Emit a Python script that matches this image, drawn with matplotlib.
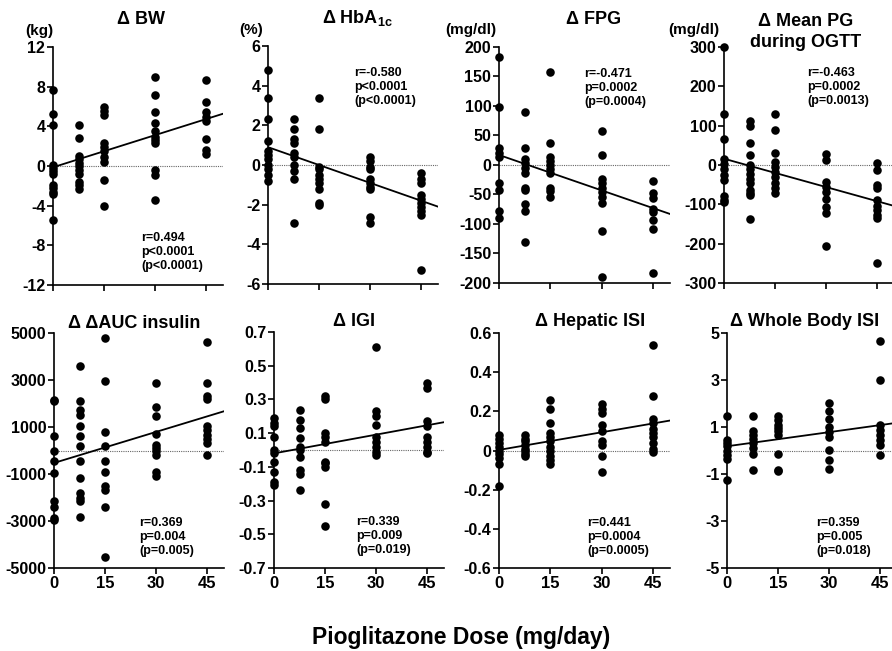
import matplotlib
matplotlib.use('Agg')
import matplotlib.pyplot as plt
import numpy as np

plt.rcParams['font.family'] = ['Liberation Sans', 'DejaVu Sans']
plt.rcParams['font.weight'] = 'bold'
plt.rcParams['mathtext.fontset'] = 'custom'
plt.rcParams['mathtext.rm'] = 'Liberation Sans:bold'
plt.rcParams['mathtext.bf'] = 'Liberation Sans:bold'
plt.rcParams['mathtext.it'] = 'Liberation Sans:bold'

# ---------------- data ----------------
doses = [0, 7.5, 15, 30, 45]
xticks = [0, 15, 30, 45]
xtick_labels = ['0', '15', '30', '45']

bw = [
    [7.7, 5.2, 4.1, 0.1, -0.2, -0.5, -0.8, -1.9, -2.2, -2.6, -2.8, -5.4],
    [4.1, 2.8, 1.0, 0.7, 0.3, 0.0, -0.4, -0.8, -1.6, -1.9, -2.3],
    [6.0, 5.5, 5.1, 2.3, 1.9, 1.5, 0.9, 0.4, -1.4, -4.0],
    [9.0, 7.2, 5.4, 4.3, 3.5, 2.9, 2.6, 2.3, -0.4, -0.9, -3.4],
    [8.7, 6.5, 5.4, 4.9, 4.5, 2.7, 1.6, 1.2],
]
hba1c = [
    [4.8, 3.4, 2.3, 1.2, 0.7, 0.5, 0.3, 0.0, -0.2, -0.5, -0.8],
    [2.3, 1.8, 1.3, 1.1, 0.6, 0.4, 0.0, -0.3, -0.7, -2.9],
    [3.4, 1.8, -0.1, -0.2, -0.5, -0.7, -0.9, -1.2, -1.9, -2.0],
    [0.4, 0.2, -0.1, -0.2, -0.7, -0.9, -1.1, -1.2, -2.6, -2.9],
    [-0.4, -0.7, -0.9, -1.5, -1.7, -1.9, -2.1, -2.3, -2.5, -5.3],
]
fpg = [
    [183, 99, 28, 21, 14, -30, -42, -78, -89],
    [89, 29, 11, 4, -5, -13, -39, -42, -66, -78, -131],
    [157, 37, 14, 7, 0, -6, -14, -39, -44, -54],
    [58, 17, -24, -31, -39, -45, -54, -65, -112, -189],
    [-27, -48, -56, -74, -80, -93, -109, -183],
]
mean_pg = [
    [300, 130, 67, 14, 3, -9, -26, -39, -80, -90, -94],
    [112, 98, 56, 25, 0, -9, -22, -35, -47, -63, -71, -77, -138],
    [130, 88, 31, 8, -5, -18, -31, -46, -58, -70],
    [27, 12, -43, -56, -69, -86, -107, -121, -206],
    [6, -12, -50, -58, -88, -103, -115, -128, -136, -249],
]
auc_ins = [
    [2160, 2090, 630, -35, -460, -960, -2160, -2400, -2870, -2970],
    [3580, 2120, 1740, 1525, 1030, 600, 180, -460, -1170, -1810, -2020, -2160, -2840],
    [4790, 2970, 790, 180, -430, -910, -1520, -1690, -2420, -4530],
    [2870, 1850, 1450, 720, 250, 110, -35, -180, -910, -1100],
    [4620, 2870, 2330, 2200, 1060, 890, 670, 490, 320, -180],
]
igi = [
    [0.19, 0.16, 0.14, 0.08, 0.0, -0.02, -0.07, -0.13, -0.19, -0.21],
    [0.24, 0.18, 0.13, 0.07, 0.02, 0.0, -0.04, -0.12, -0.14, -0.24],
    [0.32, 0.30, 0.10, 0.08, 0.05, -0.07, -0.08, -0.10, -0.32, -0.45],
    [0.61, 0.23, 0.20, 0.15, 0.08, 0.05, 0.02, -0.01, -0.03],
    [0.40, 0.37, 0.17, 0.14, 0.08, 0.05, 0.02, -0.01, -0.02],
]
hepatic_isi = [
    [0.08, 0.06, 0.04, 0.02, -0.005, -0.02, -0.04, -0.07, -0.18],
    [0.08, 0.06, 0.05, 0.03, 0.01, -0.005, -0.02, -0.03],
    [0.26, 0.21, 0.14, 0.09, 0.07, 0.05, 0.02, -0.005, -0.03, -0.05, -0.07],
    [0.24, 0.21, 0.19, 0.13, 0.10, 0.05, 0.03, -0.03, -0.11],
    [0.54, 0.28, 0.16, 0.14, 0.11, 0.09, 0.07, 0.04, 0.01, -0.01],
]
whole_isi = [
    [1.48, 0.46, 0.32, 0.18, 0.0, -0.18, -0.36, -1.24],
    [1.48, 0.84, 0.67, 0.49, 0.32, 0.11, -0.13, -0.82],
    [1.45, 1.31, 1.1, 0.96, 0.82, 0.67, -0.13, -0.82, -0.89],
    [2.02, 1.67, 1.35, 0.99, 0.79, 0.57, 0.04, -0.42, -0.77],
    [4.64, 3.01, 1.1, 0.89, 0.67, 0.46, 0.25, -0.18],
]

# regression lines (intercept, slope)
fit_intercepts = [-0.13, 0.9, 17, 16, -530, -0.02, 0.003, 0.18]
fit_slopes = [0.108, -0.06, -2.0, -2.4, 44, 0.0037, 0.003, 0.02]

titles = ['\u0394 BW', '\u0394 HbA$_{\\mathrm{1c}}$', '\u0394 FPG', '\u0394 Mean PG\nduring OGTT',
          '\u0394 \u0394AUC insulin', '\u0394 IGI', '\u0394 Hepatic ISI', '\u0394 Whole Body ISI']
units = ['(kg)', '(%)', '(mg/dl)', '(mg/dl)', None, None, None, None]
stats = ['r=0.494\np<0.0001\n(p<0.0001)',
         'r=-0.580\np<0.0001\n(p<0.0001)',
         'r=-0.471\np=0.0002\n(p=0.0004)',
         'r=-0.463\np=0.0002\n(p=0.0013)',
         'r=0.369\np=0.004\n(p=0.005)',
         'r=0.339\np=0.009\n(p=0.019)',
         'r=0.441\np=0.0004\n(p=0.0005)',
         'r=0.359\np=0.005\n(p=0.018)']

yticks_list = [
    [-12, -8, -4, 0, 4, 8, 12],
    [-6, -4, -2, 0, 2, 4, 6],
    [-200, -150, -100, -50, 0, 50, 100, 150, 200],
    [-300, -200, -100, 0, 100, 200, 300],
    [-5000, -3000, -1000, 1000, 3000, 5000],
    [-0.7, -0.5, -0.3, -0.1, 0.1, 0.3, 0.5, 0.7],
    [-0.6, -0.4, -0.2, 0, 0.2, 0.4, 0.6],
    [-5, -3, -1, 1, 3, 5],
]
ytick_labels_list = [
    ['-12', '-8', '-4', '0', '4', '8', '12'],
    ['-6', '-4', '-2', '0', '2', '4', '6'],
    ['-200', '-150', '-100', '-50', '0', '50', '100', '150', '200'],
    ['-300', '-200', '-100', '0', '100', '200', '300'],
    ['-5000', '-3000', '-1000', '1000', '3000', '5000'],
    ['-0.7', '-0.5', '-0.3', '-0.1', '0.1', '0.3', '0.5', '0.7'],
    ['-0.6', '-0.4', '-0.2', '0', '0.2', '0.4', '0.6'],
    ['-5', '-3', '-1', '1', '3', '5'],
]
datasets = [bw, hba1c, fpg, mean_pg, auc_ins, igi, hepatic_isi, whole_isi]

# ---------------- layout (pixels) ----------------
W, H = 892, 651
fig = plt.figure(figsize=(W / 100, H / 100), dpi=100)

axes_rects = [  # left, top, width, height
    (53, 47, 170, 238), (268, 46, 170, 238), (499, 47, 171, 236), (724, 47, 170, 236),
    (54, 333, 170, 235), (274, 332, 170, 236), (499, 333, 171, 235), (727, 333, 170, 235),
]
title_pos = [(141, 19), (357, 18), (594, 19), (806, 32),
             (134, 323), (354, 322), (590, 322), (805, 321)]
unit_pos = [(39, 31), (251, 30), (471, 30), (694, 30)]
stats_pos = [(141, 252), (354, 87), (584, 88), (807, 87),
             (139, 537), (356, 536), (587, 537), (816, 537)]

def fx(x):
    return x / W

def fy(y):
    return 1 - y / H

for i in range(8):
    l, t, w, h = axes_rects[i]
    ax = fig.add_axes([fx(l), fy(t + h), w / W, h / H])
    data = datasets[i]
    for d, vals in zip(doses, data):
        ax.scatter(np.full(len(vals), d), vals, s=38, c='black', linewidths=0,
                   clip_on=False, zorder=3)
    xs = np.array([0, 50])
    ax.plot(xs, fit_intercepts[i] + fit_slopes[i] * xs, color='black', lw=1.3, zorder=2)
    ax.axhline(0, color='#666666', lw=0.8, ls=(0, (1, 1)), zorder=1)
    yt = yticks_list[i]
    ax.set_ylim(yt[0], yt[-1])
    ax.set_xlim(0, 50)
    ax.set_yticks(yt)
    ax.set_yticklabels(ytick_labels_list[i], fontsize=11.5, fontweight='bold')
    ax.set_xticks(xticks)
    if i >= 4:
        ax.set_xticklabels(xtick_labels, fontsize=12, fontweight='bold')
    else:
        ax.set_xticklabels([])
    for s in ['top', 'right']:
        ax.spines[s].set_visible(False)
    for s in ['left', 'bottom']:
        ax.spines[s].set_linewidth(1.2)
    ax.tick_params(direction='out', length=4, width=1.2, pad=1.5)
    ax.patch.set_alpha(0)

    tx, ty = title_pos[i]
    fig.text(fx(tx), fy(ty), titles[i], ha='center', va='center', fontsize=13,
             fontweight='bold', linespacing=1.3)
    if units[i]:
        ux, uy = unit_pos[i]
        fig.text(fx(ux), fy(uy), units[i], ha='center', va='center', fontsize=11,
                 fontweight='bold')
    sx, sy = stats_pos[i]
    fig.text(fx(sx), fy(sy), stats[i], ha='left', va='center', fontsize=9,
             fontweight='bold', linespacing=1.2)

fig.text(fx(461), fy(644), 'Pioglitazone Dose (mg/day)', ha='center', va='baseline',
         fontsize=16.5, fontweight='bold')

fig.savefig('out.png', dpi=100)
